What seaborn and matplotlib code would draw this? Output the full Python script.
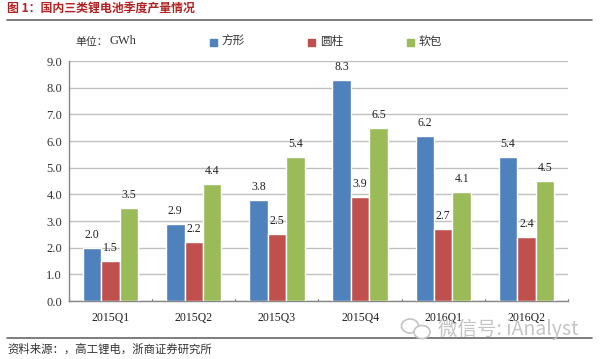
import pandas as pd
import matplotlib
matplotlib.use('Agg')
import matplotlib.pyplot as plt
from matplotlib.patches import Ellipse, Rectangle
import seaborn as sns

quarters = ['2015Q1', '2015Q2', '2015Q3', '2015Q4', '2016Q1', '2016Q2']
fangxing = [2.0, 2.9, 3.8, 8.3, 6.2, 5.4]
yuanzhu = [1.5, 2.2, 2.5, 3.9, 2.7, 2.4]
ruanbao = [3.5, 4.4, 5.4, 6.5, 4.1, 4.5]
y_ticks = [0, 1, 2, 3, 4, 5, 6, 7, 8, 9]

colors = ['#4F81BD', '#C0504D', '#9BBB59']
cjk = ['Noto Sans CJK SC', 'DejaVu Sans']
serif = 'Liberation Serif'
grey = '#868686'

df = pd.DataFrame({'quarter': quarters, '方形': fangxing, '圆柱': yuanzhu, '软包': ruanbao})
long_df = df.melt(id_vars='quarter', var_name='type', value_name='value')

sns.set_style('white')
fig = plt.figure(figsize=(6, 3.59), dpi=100)
ax = fig.add_axes([69 / 600, 1 - 301 / 359, 499 / 600, 240 / 359])

sns.barplot(data=long_df, x='quarter', y='value', hue='type', palette=colors,
            width=0.666, gap=0, saturation=1, legend=False, ax=ax, zorder=3)
ax.set_xlim(-0.5, 5.5)
ax.set_ylim(0, 9)
ax.set_xlabel('')
ax.set_ylabel('')

ax.set_yticks(y_ticks)
ax.set_yticklabels(['%.1f' % v for v in y_ticks], family=serif, fontsize=9, color='#333333')
ax.set_xticks(range(6))
ax.set_xticklabels(quarters, family=serif, fontsize=8.5, color='#222222')
ax.grid(axis='y', color='#c0c0c0', lw=1, zorder=0)
ax.set_axisbelow(True)
for s in ['top', 'right']:
    ax.spines[s].set_visible(False)
for s in ['left', 'bottom']:
    ax.spines[s].set_color(grey)
    ax.spines[s].set_linewidth(1)

# y ticks on the left, x ticks between the groups
ax.tick_params(axis='y', length=3, width=0.8, color=grey, pad=2)
ax.tick_params(axis='x', length=0, pad=8)
for i in range(7):
    ax.plot([i - 0.5, i - 0.5], [0, 0.07], color=grey, lw=0.8, clip_on=False, zorder=4)

for container in ax.containers:
    ax.bar_label(container, fmt='%.1f', padding=5, family=serif, fontsize=8.5,
                 color='#222222', clip_on=False, zorder=5)


def fx(px):
    return px / 600


def fy(py):
    return 1 - py / 359


# title and rules
fig.text(fx(7), fy(9.5), '图 1：国内三类锂电池季度产量情况', family=cjk, fontsize=8.6,
         fontweight='bold', color='#B22222', va='center')
fig.add_artist(plt.Line2D([fx(7), fx(592)], [fy(20), fy(20)], color='#666666', lw=1.2))
fig.add_artist(plt.Line2D([fx(7), fx(592)], [fy(338), fy(338)], color='#666666', lw=1.2))
fig.text(fx(7), fy(349), '资料来源：，高工锂电，浙商证券研究所', family=cjk, fontsize=8.2,
         color='#333333', va='center')

# unit and legend
fig.text(fx(75), fy(41.5), '单位：', family=cjk, fontsize=7.8, color='#333333', va='center')
fig.text(fx(109), fy(41.5), 'GWh', family=serif, fontsize=9, color='#333333', va='center')
legend_x = [210, 308, 407]
for x0, name, c in zip(legend_x, ['方形', '圆柱', '软包'], colors):
    fig.add_artist(Rectangle((fx(x0), fy(46)), 7 / 600, 7 / 359, color=c, transform=fig.transFigure))
    fig.text(fx(x0 + 12), fy(41.5), name, family=cjk, fontsize=8.4, color='#333333', va='center')

# watermark
wm = '#c4c4c4'
fig.add_artist(Ellipse((fx(410), fy(326)), 17 / 600, 14 / 359, fill=False, ec=wm, lw=1.2,
                       transform=fig.transFigure))
fig.add_artist(Ellipse((fx(422), fy(332)), 16 / 600, 13 / 359, fc='white', ec=wm, lw=1.2,
                       transform=fig.transFigure, zorder=6))
fig.text(fx(438), fy(329), '微信号: iAnalyst', family=cjk, fontsize=14, color=wm,
         va='center', zorder=6)

fig.savefig('out.png', dpi=100)
